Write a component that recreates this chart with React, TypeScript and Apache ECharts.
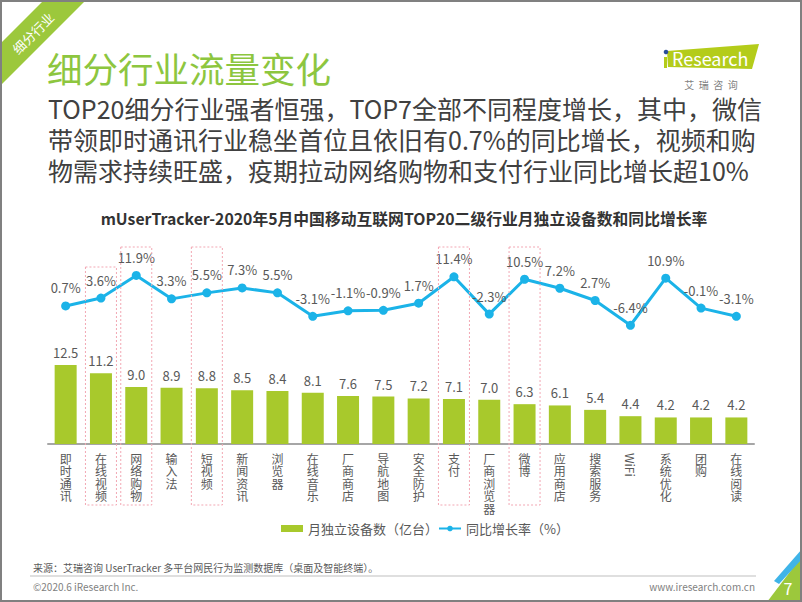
import React, { useEffect, useRef } from "react";
import * as echarts from "echarts";

const categories = [
  "即时通讯", "在线视频", "网络购物", "输入法", "短视频", "新闻资讯", "浏览器", "在线音乐", "厂商商店", "导航地图",
  "安全防护", "支付", "厂商浏览器", "微博", "应用商店", "搜索服务", "WiFi", "系统优化", "团购", "在线阅读",
];
const deviceCounts = [12.5, 11.2, 9.0, 8.9, 8.8, 8.5, 8.4, 8.1, 7.6, 7.5, 7.2, 7.1, 7.0, 6.3, 6.1, 5.4, 4.4, 4.2, 4.2, 4.2];
const growthRates = [0.7, 3.6, 11.9, 3.3, 5.5, 7.3, 5.5, -3.1, -1.1, -0.9, 1.7, 11.4, -2.3, 10.5, 7.2, 2.7, -6.4, 10.9, -0.1, -3.1];
const highlighted = ["在线视频", "网络购物", "短视频", "支付", "微博"];
const seriesNames = ["月独立设备数（亿台）", "同比增长率（%）"];

const FONT = "'Noto Sans CJK SC', 'Microsoft YaHei', sans-serif";
const GREEN = "#8dc63f";
const BAR = "#a8c92c";
const BLUE = "#1bb3e8";
const GRAY = "#595959";

export default function App() {
  const ref = useRef<HTMLDivElement>(null);
  useEffect(() => {
    if (!ref.current) return;
    const chart = echarts.init(ref.current, null, { renderer: "svg" });
    chart.setOption({
      animation: false,
      textStyle: { fontFamily: FONT },
      grid: { left: 48, right: 48, top: 267, bottom: 158 },
      legend: {
        left: 276,
        top: 517,
        itemWidth: 22,
        itemHeight: 7,
        itemGap: 0,
        textStyle: { fontSize: 13, color: GRAY, fontFamily: FONT },
        data: [{ name: seriesNames[0], icon: "rect" }, { name: seriesNames[1] }],
      },
      xAxis: {
        type: "category",
        data: categories,
        axisLine: { lineStyle: { color: "#a6a6a6", width: 2 } },
        axisTick: { show: false },
        axisLabel: {
          interval: 0,
          margin: 8,
          fontSize: 12,
          lineHeight: 12.5,
          color: GRAY,
          fontFamily: FONT,
          formatter: (v: string) => (v === "WiFi" ? "" : v.split("").join("\n")),
        },
      },
      yAxis: [
        { type: "value", min: 0, max: 28, show: false, splitLine: { show: false } },
        { type: "value", min: -50, max: 15, show: false, splitLine: { show: false } },
      ],
      series: [
        {
          name: seriesNames[0],
          type: "bar",
          data: deviceCounts,
          barWidth: 22,
          itemStyle: { color: BAR },
          label: {
            show: true,
            position: "top",
            distance: 6,
            fontSize: 13,
            color: GRAY,
            fontFamily: FONT,
            formatter: (p: any) => p.value.toFixed(1),
          },
        },
        {
          name: seriesNames[1],
          type: "line",
          yAxisIndex: 1,
          data: growthRates,
          symbol: "circle",
          symbolSize: 9,
          lineStyle: { color: BLUE, width: 3 },
          itemStyle: { color: BLUE },
          label: {
            show: true,
            position: "top",
            distance: 7,
            fontSize: 13,
            color: GRAY,
            fontFamily: FONT,
            formatter: (p: any) => p.value.toFixed(1) + "%",
          },
        },
      ],
    });

    const graphics: any[] = [];
    graphics.push({ type: "rect", shape: { x: 1, y: 1, width: 800, height: 600 }, style: { fill: "none", stroke: "#808080", lineWidth: 2 }, z: 100 });
    graphics.push({ type: "polygon", shape: { points: [[44, 0], [86, 0], [0, 86], [0, 44]] }, style: { fill: "#9cc83c" } });
    graphics.push({
      type: "text", x: 33, y: 33, rotation: Math.PI / 4,
      style: { text: "细分行业", fill: "#ffffff", font: `13px ${FONT}`, align: "center", verticalAlign: "middle" },
    });
    graphics.push({ type: "text", x: 47, y: 67, style: { text: "细分行业流量变化", fill: GREEN, font: `35.5px ${FONT}`, verticalAlign: "middle" } });
    const sub = [
      "TOP20细分行业强者恒强，TOP7全部不同程度增长，其中，微信",
      "带领即时通讯行业稳坐首位且依旧有0.7%的同比增长，视频和购",
      "物需求持续旺盛，疫期拉动网络购物和支付行业同比增长超10%",
    ];
    sub.forEach((t, i) =>
      graphics.push({ type: "text", x: 48, y: 108 + i * 31, style: { text: t, fill: "#404040", font: `25px ${FONT}`, verticalAlign: "middle" } })
    );
    graphics.push({ type: "polygon", shape: { points: [[667, 51], [759, 44], [752, 69], [668, 67]] }, style: { fill: "#b4cc1a" } });
    graphics.push({ type: "rect", shape: { x: 664, y: 57, width: 3, height: 11 }, style: { fill: "#b4cc1a" } });
    graphics.push({ type: "circle", shape: { cx: 666, cy: 52, r: 2.3 }, style: { fill: "#2a4e9b" } });
    graphics.push({ type: "text", x: 672, y: 58, style: { text: "Research", fill: "#ffffff", font: `18px ${FONT}`, verticalAlign: "middle" } });
    graphics.push({ type: "text", x: 711, y: 84, style: { text: "艾  瑞  咨  询", fill: "#7f7f7f", font: `10px ${FONT}`, align: "center", verticalAlign: "middle" } });
    graphics.push({
      type: "text", x: 404, y: 218,
      style: { text: "mUserTracker-2020年5月中国移动互联网TOP20二级行业月独立设备数和同比增长率", fill: "#333333", font: `bold 15.8px ${FONT}`, align: "center", verticalAlign: "middle" },
    });
    highlighted.forEach((c) => {
      const cx = chart.convertToPixel({ xAxisIndex: 0 }, c) as number;
      const top = c === "在线视频" ? 267 : 247;
      graphics.push({
        type: "rect", shape: { x: cx - 15.5, y: top, width: 31, height: 505 - top },
        style: { fill: "none", stroke: "#f2a7b3", lineWidth: 1, lineDash: [2, 2] }, z: 50,
      });
    });
    const wx = chart.convertToPixel({ xAxisIndex: 0 }, "WiFi") as number;
    graphics.push({
      type: "text", x: wx, y: 453, rotation: -Math.PI / 2,
      style: { text: "WiFi", fill: GRAY, font: `12px ${FONT}`, align: "left", verticalAlign: "middle" },
    });
    graphics.push({ type: "text", x: 33, y: 567, style: { text: "来源：艾瑞咨询 UserTracker 多平台网民行为监测数据库（桌面及智能终端）。", fill: "#595959", font: `10px ${FONT}`, verticalAlign: "middle" } });
    graphics.push({ type: "line", shape: { x1: 30, y1: 576, x2: 756, y2: 576 }, style: { stroke: "#bfbfbf", lineWidth: 1 } });
    graphics.push({ type: "text", x: 33, y: 586, style: { text: "©2020.6 iResearch Inc.", fill: "#7f7f7f", font: `10px ${FONT}`, verticalAlign: "middle" } });
    graphics.push({ type: "text", x: 755, y: 586, style: { text: "www.iresearch.com.cn", fill: "#7f7f7f", font: `10px ${FONT}`, align: "right", verticalAlign: "middle" } });
    graphics.push({ type: "polygon", shape: { points: [[767, 602], [802, 556], [802, 602]] }, style: { fill: "#9cc83c" } });
    graphics.push({ type: "polygon", shape: { points: [[774, 581], [802, 549], [802, 559], [779, 584]] }, style: { fill: "#3fb4e8" } });
    graphics.push({ type: "text", x: 788, y: 588, style: { text: "7", fill: "#ffffff", font: `16px ${FONT}`, align: "center", verticalAlign: "middle" } });

    chart.setOption({ graphic: graphics });
    return () => chart.dispose();
  }, []);
  return <div ref={ref} style={{ position: "absolute", left: 0, top: 0, width: 802, height: 602, background: "#fff" }} />;
}
